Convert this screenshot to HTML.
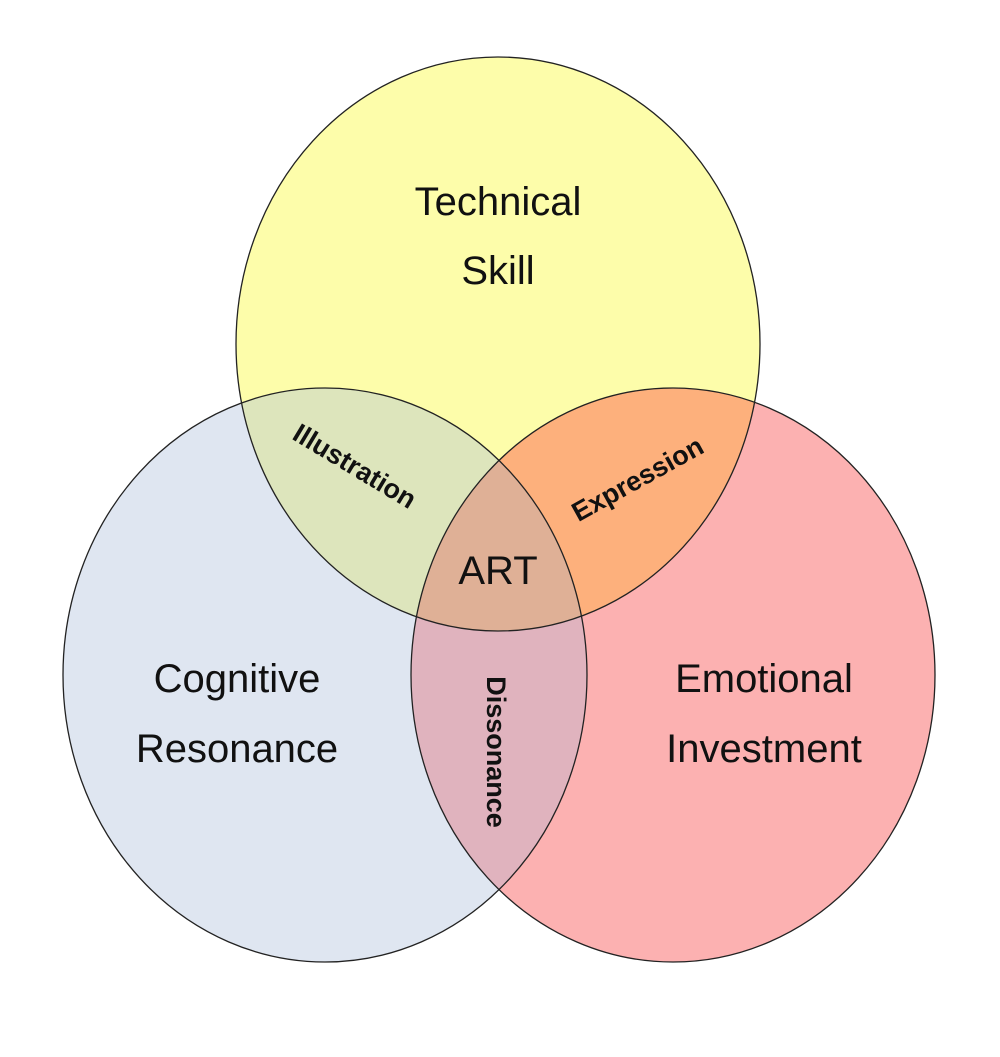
<!DOCTYPE html>
<html><head><style>body{margin:0;background:#fff}</style></head><body>
<svg width="1000" height="1052" viewBox="0 0 1000 1052" xmlns="http://www.w3.org/2000/svg">
<defs>
<clipPath id="cT"><ellipse cx="498" cy="344" rx="262" ry="287"/></clipPath>
<clipPath id="cL"><ellipse cx="325" cy="675" rx="262" ry="287"/></clipPath>
<clipPath id="cR"><ellipse cx="673" cy="675" rx="262" ry="287"/></clipPath>
</defs>
<ellipse cx="498" cy="344" rx="262" ry="287" fill="#fdfdaa"/>
<ellipse cx="325" cy="675" rx="262" ry="287" fill="#dfe6f1"/>
<ellipse cx="673" cy="675" rx="262" ry="287" fill="#fcb1b1"/>
<g clip-path="url(#cT)">
<ellipse cx="325" cy="675" rx="262" ry="287" fill="#dde5bc"/>
<ellipse cx="673" cy="675" rx="262" ry="287" fill="#fdb07c"/>
</g>
<g clip-path="url(#cL)">
<ellipse cx="673" cy="675" rx="262" ry="287" fill="#e0b3be"/>
<g clip-path="url(#cT)"><ellipse cx="673" cy="675" rx="262" ry="287" fill="#dfb096"/></g>
</g>
<g fill="none" stroke="#222" stroke-width="1.3">
<ellipse cx="498" cy="344" rx="262" ry="287"/>
<ellipse cx="325" cy="675" rx="262" ry="287"/>
<ellipse cx="673" cy="675" rx="262" ry="287"/>
</g>
<g font-family="Liberation Sans, sans-serif" font-size="40" fill="#111" text-anchor="middle">
<text x="498" y="215">Technical</text>
<text x="498" y="284">Skill</text>
<text x="237" y="692">Cognitive</text>
<text x="237" y="762">Resonance</text>
<text x="764" y="692">Emotional</text>
<text x="764" y="762">Investment</text>
<text x="498" y="584">ART</text>
</g>
<g font-family="Liberation Sans, sans-serif" font-size="27" font-weight="bold" fill="#111" text-anchor="middle">
<text transform="translate(350,474) rotate(31)">Illustration</text>
<text transform="translate(642,487) rotate(-29)">Expression</text>
<text transform="translate(487,752) rotate(90)">Dissonance</text>
</g>
</svg>
</body></html>
